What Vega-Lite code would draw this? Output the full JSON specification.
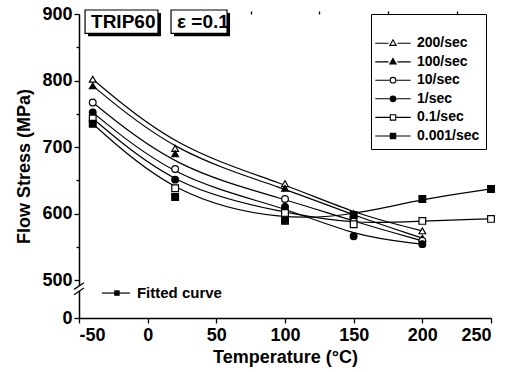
{
  "$schema": "https://vega.github.io/schema/vega-lite/v6.json",
  "width": 412,
  "height": 304,
  "autosize": "none",
  "padding": {"left": 79, "top": 14, "right": 16, "bottom": 54},
  "background": "white",
  "config": {
    "view": {"stroke": null},
    "font": "Liberation Sans",
    "axis": {
      "grid": false,
      "domainColor": "black",
      "domainWidth": 1.5,
      "tickColor": "black",
      "tickWidth": 1.3,
      "tickSize": 5,
      "labelColor": "black",
      "labelFont": "Liberation Sans",
      "labelFontWeight": "bold",
      "labelFontSize": 18,
      "titleColor": "black",
      "titleFont": "Liberation Sans",
      "titleFontWeight": "bold",
      "titleFontSize": 18
    },
    "legend": {
      "labelFont": "Liberation Sans",
      "labelFontWeight": "bold",
      "labelFontSize": 14,
      "labelColor": "black"
    }
  },
  "datasets": {
    "flow": [
      {"rate": "200/sec", "T": -40, "stress": 802},
      {"rate": "200/sec", "T": 20, "stress": 698},
      {"rate": "200/sec", "T": 100, "stress": 645},
      {"rate": "200/sec", "T": 150, "stress": 600},
      {"rate": "200/sec", "T": 200, "stress": 574},
      {"rate": "100/sec", "T": -40, "stress": 792},
      {"rate": "100/sec", "T": 20, "stress": 690},
      {"rate": "100/sec", "T": 100, "stress": 638},
      {"rate": "100/sec", "T": 150, "stress": 597},
      {"rate": "100/sec", "T": 200, "stress": 563},
      {"rate": "10/sec", "T": -40, "stress": 767},
      {"rate": "10/sec", "T": 20, "stress": 667},
      {"rate": "10/sec", "T": 100, "stress": 622},
      {"rate": "10/sec", "T": 150, "stress": 588},
      {"rate": "10/sec", "T": 200, "stress": 559},
      {"rate": "1/sec", "T": -40, "stress": 752},
      {"rate": "1/sec", "T": 20, "stress": 651},
      {"rate": "1/sec", "T": 100, "stress": 610},
      {"rate": "1/sec", "T": 150, "stress": 566},
      {"rate": "1/sec", "T": 200, "stress": 554},
      {"rate": "0.1/sec", "T": -40, "stress": 743},
      {"rate": "0.1/sec", "T": 20, "stress": 638},
      {"rate": "0.1/sec", "T": 100, "stress": 601},
      {"rate": "0.1/sec", "T": 150, "stress": 584},
      {"rate": "0.1/sec", "T": 200, "stress": 589},
      {"rate": "0.1/sec", "T": 250, "stress": 592},
      {"rate": "0.001/sec", "T": -40, "stress": 735},
      {"rate": "0.001/sec", "T": 20, "stress": 625},
      {"rate": "0.001/sec", "T": 100, "stress": 589},
      {"rate": "0.001/sec", "T": 150, "stress": 598},
      {"rate": "0.001/sec", "T": 200, "stress": 622},
      {"rate": "0.001/sec", "T": 250, "stress": 637}
    ],
    "boxes": [
      {"label": "TRIP60", "x1": -45.6, "x2": 7.5, "y1": 906, "y2": 871},
      {"label": "ε =0.1", "x1": 17.0, "x2": 57.8, "y1": 906, "y2": 871}
    ],
    "fitkey": [
      {"T": -33.3, "T2": -12.9, "stress": 480.5, "label": "Fitted curve"}
    ],
    "brk": [
      {"T": -52, "T2": -46, "y1": 484, "y2": 491},
      {"T": -53.6, "T2": -46.4, "y1": 486, "y2": 496},
      {"T": -53.6, "T2": -46.4, "y1": 478, "y2": 488}
    ]
  },
  "resolve": {
    "axis": {"x": "independent", "y": "independent"},
    "scale": {"shape": "independent", "fill": "independent"}
  },
  "layer": [
    {
      "data": {"name": "flow"},
      "mark": {"type": "point", "opacity": 0, "size": 0},
      "encoding": {
        "x": {"field": "T", "type": "quantitative",
              "scale": {"domain": [-50, 250], "nice": false, "zero": false},
              "axis": {"title": "Temperature  (°C)", "values": [-50, 0, 50, 100, 150, 200, 250], "labelExpr": "replace(datum.label, '−', '-')", "labelPadding": 3, "titlePadding": 4, "tickSize": 5}},
        "y": {"field": "stress", "type": "quantitative",
              "scale": {"domain": [443, 900], "nice": false, "zero": false},
              "axis": {"title": "Flow Stress (MPa)", "values": [443, 500, 600, 700, 800, 900], "labelExpr": "datum.value < 450 ? '0' : datum.label", "labelPadding": 2, "titlePadding": 8}}
      }
    },
    {
      "data": {"name": "flow"},
      "mark": {"type": "point", "opacity": 0, "size": 0},
      "encoding": {
        "x": {"field": "T", "type": "quantitative",
              "axis": {"title": null, "values": [-25, 25, 75, 125, 175, 225], "labels": false, "domain": false, "tickSize": 3}},
        "y": {"field": "stress", "type": "quantitative",
              "axis": {"title": null, "orient": "left", "values": [550, 650, 750, 850], "labels": false, "domain": false, "tickSize": 3}}
      }
    },
    {
      "data": {"name": "brk"},
      "transform": [{"filter": "datum.T == -52"}],
      "mark": {"type": "rect", "fill": "white"},
      "encoding": {
        "x": {"field": "T", "type": "quantitative", "axis": null},
        "x2": {"field": "T2"},
        "y": {"field": "y1", "type": "quantitative", "axis": null},
        "y2": {"field": "y2"}
      }
    },
    {
      "data": {"name": "brk"},
      "transform": [{"filter": "datum.T != -52"}],
      "mark": {"type": "rule", "stroke": "black", "strokeWidth": 1.3},
      "encoding": {
        "x": {"field": "T", "type": "quantitative", "axis": null},
        "x2": {"field": "T2"},
        "y": {"field": "y1", "type": "quantitative", "axis": null},
        "y2": {"field": "y2"}
      }
    },
    {
      "data": {"name": "flow"},
      "mark": {"type": "line", "stroke": "black", "strokeWidth": 1.2, "interpolate": "basis"},
      "encoding": {
        "x": {"field": "T", "type": "quantitative", "axis": null},
        "y": {"field": "stress", "type": "quantitative", "axis": null},
        "detail": {"field": "rate"}
      }
    },
    {
      "data": {"name": "flow"},
      "mark": {"type": "point", "stroke": "black", "strokeWidth": 1.2, "opacity": 1, "filled": false, "size": 45},
      "encoding": {
        "x": {"field": "T", "type": "quantitative", "axis": null},
        "y": {"field": "stress", "type": "quantitative", "axis": null},
        "shape": {"field": "rate", "type": "nominal",
                  "scale": {"domain": ["200/sec", "100/sec", "10/sec", "1/sec", "0.1/sec", "0.001/sec"],
                            "range": ["triangle-up", "triangle-up", "circle", "circle", "square", "square"]},
                  "legend": null},
        "fill": {"field": "rate", "type": "nominal",
                 "scale": {"domain": ["200/sec", "100/sec", "10/sec", "1/sec", "0.1/sec", "0.001/sec"],
                           "range": ["white", "black", "white", "black", "white", "black"]},
                 "legend": null}
      }
    },
    {
      "data": {"name": "flow"},
      "transform": [{"filter": "datum.T > 1000"}],
      "mark": {"type": "point", "stroke": "black", "strokeWidth": 1.1, "opacity": 1, "filled": false, "size": 40},
      "encoding": {
        "x": {"field": "T", "type": "quantitative", "axis": null},
        "y": {"field": "stress", "type": "quantitative", "axis": null},
        "shape": {"field": "rate", "type": "nominal",
                  "scale": {"domain": ["200/sec", "100/sec", "10/sec", "1/sec", "0.1/sec", "0.001/sec"],
                            "range": ["M-5.6,0.1H-1.4M1.4,0.1H5.6M0,-1L1,0.75H-1Z", "M-5.6,0.1H-1.4M1.4,0.1H5.6M0,-1L1,0.75H-1Z",
                                      "M-5.6,0H-1.1M1.1,0H5.6M-0.9,0A0.9,0.9,0,1,1,0.9,0A0.9,0.9,0,1,1,-0.9,0Z", "M-5.6,0H-1.1M1.1,0H5.6M-0.9,0A0.9,0.9,0,1,1,0.9,0A0.9,0.9,0,1,1,-0.9,0Z",
                                      "M-5.6,0H-0.9M0.9,0H5.6M-0.85,-0.85H0.85V0.85H-0.85Z", "M-5.6,0H-0.9M0.9,0H5.6M-0.85,-0.85H0.85V0.85H-0.85Z"]},
                  "legend": {"title": " ", "titleFontSize": 12, "titlePadding": 4, "orient": "none", "legendX": 292, "legendY": 0,
                             "strokeColor": "black", "padding": 6, "symbolSize": 40, "symbolStrokeWidth": 1.1,
                             "symbolOffset": 9, "labelOffset": 17, "rowPadding": 4.6,
                             "encode": {"symbols": {"update": {"stroke": {"value": "black"}, "strokeWidth": {"value": 1.1}, "opacity": {"value": 1}}}}}},
        "fill": {"field": "rate", "type": "nominal",
                 "scale": {"domain": ["200/sec", "100/sec", "10/sec", "1/sec", "0.1/sec", "0.001/sec"],
                           "range": ["white", "black", "white", "black", "white", "black"]},
                 "legend": {"title": " ", "titleFontSize": 12, "titlePadding": 4, "orient": "none", "legendX": 292, "legendY": 0,
                            "strokeColor": "black", "padding": 6, "symbolSize": 40, "symbolStrokeWidth": 1.1,
                            "symbolOffset": 9, "labelOffset": 17, "rowPadding": 4.6,
                            "encode": {"symbols": {"update": {"stroke": {"value": "black"}, "strokeWidth": {"value": 1.1}, "opacity": {"value": 1}}}}}}
      }
    },
    {
      "data": {"name": "boxes"},
      "mark": {"type": "rect", "fill": "black", "xOffset": 3, "x2Offset": 3, "yOffset": 3, "y2Offset": 3, "clip": false},
      "encoding": {
        "x": {"field": "x1", "type": "quantitative", "axis": null},
        "x2": {"field": "x2"},
        "y": {"field": "y1", "type": "quantitative", "axis": null},
        "y2": {"field": "y2"}
      }
    },
    {
      "data": {"name": "boxes"},
      "mark": {"type": "rect", "fill": "white", "stroke": "black", "strokeWidth": 1.2, "clip": false},
      "encoding": {
        "x": {"field": "x1", "type": "quantitative", "axis": null},
        "x2": {"field": "x2"},
        "y": {"field": "y1", "type": "quantitative", "axis": null},
        "y2": {"field": "y2"}
      }
    },
    {
      "data": {"name": "boxes"},
      "mark": {"type": "text", "align": "left", "baseline": "middle", "dx": 6, "dy": 12, "fontSize": 19, "fontWeight": "bold", "font": "Liberation Sans", "fill": "black"},
      "encoding": {
        "x": {"field": "x1", "type": "quantitative", "axis": null},
        "y": {"field": "y1", "type": "quantitative", "axis": null},
        "text": {"field": "label"}
      }
    },
    {
      "data": {"name": "fitkey"},
      "mark": {"type": "rule", "stroke": "black", "strokeWidth": 1.2},
      "encoding": {
        "x": {"field": "T", "type": "quantitative", "axis": null},
        "x2": {"field": "T2"},
        "y": {"field": "stress", "type": "quantitative", "axis": null}
      }
    },
    {
      "data": {"name": "fitkey"},
      "mark": {"type": "square", "fill": "black", "size": 30, "opacity": 1},
      "encoding": {
        "x": {"field": "T", "type": "quantitative", "axis": null},
        "xOffset": {"value": 15},
        "y": {"field": "stress", "type": "quantitative", "axis": null}
      }
    },
    {
      "data": {"name": "fitkey"},
      "mark": {"type": "text", "align": "left", "baseline": "middle", "dx": 35, "fontSize": 15, "fontWeight": "bold", "font": "Liberation Sans", "fill": "black"},
      "encoding": {
        "x": {"field": "T", "type": "quantitative", "axis": null},
        "y": {"field": "stress", "type": "quantitative", "axis": null},
        "text": {"field": "label"}
      }
    }
  ]
}
